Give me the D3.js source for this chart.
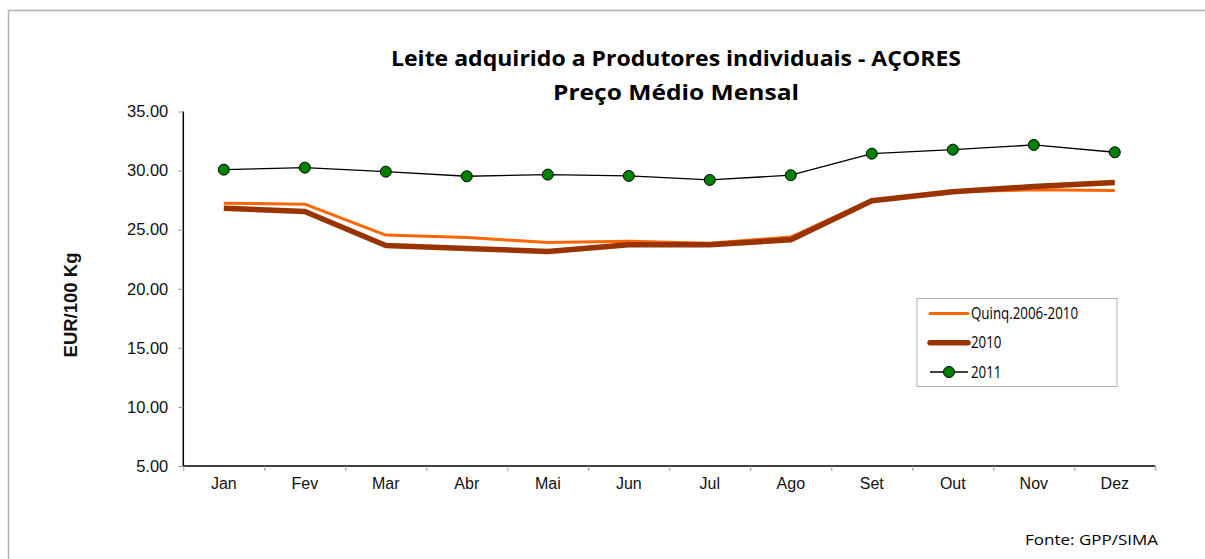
<!DOCTYPE html>
<html>
<head>
<meta charset="utf-8">
<script src="https://cdn.jsdelivr.net/npm/d3@7"></script>
<style>
  body { margin: 0; background: #fff; overflow: hidden; }
  svg { display: block; }
</style>
</head>
<body>
<div id="chart"></div>
<script>
const width = 1205
const height = 559

const months = ["Jan", "Fev", "Mar", "Abr", "Mai", "Jun", "Jul", "Ago", "Set", "Out", "Nov", "Dez"]
const quinq = [27.24, 27.16, 24.54, 24.34, 23.91, 24.03, 23.86, 24.37, 27.52, 28.2, 28.37, 28.31]
const y2010 = [26.82, 26.53, 23.66, 23.41, 23.15, 23.72, 23.72, 24.14, 27.44, 28.2, 28.65, 28.99]
const y2011 = [30.08, 30.25, 29.91, 29.52, 29.66, 29.55, 29.21, 29.61, 31.43, 31.77, 32.17, 31.55]
const yTicks = [5, 10, 15, 20, 25, 30, 35]

const series = [
  {name: "Quinq.2006-2010", values: quinq, color: "#FF6600", width: 3, dots: false},
  {name: "2010", values: y2010, color: "#993300", width: 5.5, dots: false},
  {name: "2011", values: y2011, color: "#000", width: 1.3, dots: true}
]

const plot = {left: 183.3, right: 1155.3, top: 111.5, bottom: 466}
const humanist = "'Open Sans', sans-serif"

const svg = d3.select("#chart")
  .append("svg")
  .attr("width", width)
  .attr("height", height)

// outer frame (right and bottom run off the picture)
svg.append("path")
  .attr("d", "M8.5,559 V10.5 H1210")
  .attr("fill", "none")
  .attr("stroke", "#b0b0b0")
  .attr("stroke-width", 1.5)

const x = d3.scaleBand()
  .domain(months)
  .range([plot.left, plot.right])
  .padding(0)

const xTick = d3.scaleLinear()
  .domain([0, months.length])
  .range([plot.left, plot.right])

const y = d3.scaleLinear()
  .domain([5, 35])
  .range([plot.bottom, plot.top])

// y axis
const yAxis = svg.append("g")
  .attr("transform", `translate(${plot.left},0)`)
  .call(d3.axisLeft(y).tickValues(yTicks).tickFormat(d3.format(".2f")).tickSize(5).tickPadding(10))
yAxis.select(".domain").attr("stroke", "#000").attr("stroke-width", 1.5).attr("d", `M0,${plot.top}V${plot.bottom}`)
yAxis.selectAll(".tick line").attr("stroke", "#999")
yAxis.selectAll(".tick text")
  .attr("font-family", "'Liberation Sans', Arial, sans-serif")
  .attr("font-size", 16.5)
  .attr("fill", "#111")

// x axis: boundary ticks
const xAxisTicks = svg.append("g")
  .attr("transform", `translate(0,${plot.bottom})`)
  .call(d3.axisBottom(xTick).tickValues(d3.range(0, months.length + 1)).tickFormat("").tickSize(5))
xAxisTicks.select(".domain").attr("stroke", "#000").attr("stroke-width", 1.5).attr("d", `M${plot.left},0H${plot.right}`)
xAxisTicks.selectAll(".tick line").attr("stroke", "#999")

// x axis: month labels
const xAxis = svg.append("g")
  .attr("transform", `translate(0,${plot.bottom})`)
  .call(d3.axisBottom(x).tickSize(0).tickPadding(12))
xAxis.select(".domain").remove()
xAxis.selectAll(".tick text")
  .attr("font-family", "'Liberation Sans', Arial, sans-serif")
  .attr("font-size", 16)
  .attr("fill", "#111")

// y axis title
svg.append("text")
  .attr("transform", "translate(77,305) rotate(-90)")
  .attr("text-anchor", "middle")
  .attr("font-family", "'Liberation Sans', Arial, sans-serif")
  .attr("font-weight", "bold")
  .attr("font-size", 18.5)
  .attr("fill", "#111")
  .text("EUR/100 Kg")

// title
svg.append("text")
  .attr("x", 676)
  .attr("y", 66)
  .attr("text-anchor", "middle")
  .attr("font-family", humanist)
  .attr("font-weight", "bold")
  .attr("font-size", 22)
  .attr("textLength", 570)
  .attr("lengthAdjust", "spacingAndGlyphs")
  .attr("fill", "#000")
  .text("Leite adquirido a Produtores individuais - AÇORES")

svg.append("text")
  .attr("x", 676)
  .attr("y", 100)
  .attr("text-anchor", "middle")
  .attr("font-family", humanist)
  .attr("font-weight", "bold")
  .attr("font-size", 22)
  .attr("textLength", 246)
  .attr("lengthAdjust", "spacingAndGlyphs")
  .attr("fill", "#000")
  .text("Preço Médio Mensal")

// lines
const line = d3.line()
  .x((d, i) => x(months[i]) + x.bandwidth() / 2)
  .y(d => y(d))

svg.append("g")
  .selectAll("path")
  .data(series)
  .join("path")
  .attr("d", d => line(d.values))
  .attr("fill", "none")
  .attr("stroke", d => d.color)
  .attr("stroke-width", d => d.width)
  .attr("stroke-linejoin", "round")

svg.append("g")
  .selectAll("circle")
  .data(y2011)
  .join("circle")
  .attr("cx", (d, i) => x(months[i]) + x.bandwidth() / 2)
  .attr("cy", d => y(d))
  .attr("r", 5.5)
  .attr("fill", "#008000")
  .attr("stroke", "#000")
  .attr("stroke-width", 1)

// legend
const legend = svg.append("g")
legend.append("rect")
  .attr("x", 917)
  .attr("y", 298.5)
  .attr("width", 200)
  .attr("height", 88)
  .attr("fill", "#fff")
  .attr("stroke", "#b0b0b0")
  .attr("stroke-width", 1)

const rowY = d3.scalePoint()
  .domain(series.map(d => d.name))
  .range([313.5, 372])

const item = legend.selectAll(".item")
  .data(series)
  .join("g")
  .attr("class", "item")
  .attr("transform", d => `translate(0,${rowY(d.name)})`)

item.append("line")
  .attr("x1", 930)
  .attr("x2", 968)
  .attr("stroke", d => d.color)
  .attr("stroke-width", d => d.width)
  .attr("stroke-linecap", d => d.dots ? "butt" : "round")

item.filter(d => d.dots)
  .append("circle")
  .attr("cx", 949)
  .attr("r", 5.5)
  .attr("fill", "#008000")
  .attr("stroke", "#000")

item.append("text")
  .attr("x", 971)
  .attr("dy", "0.36em")
  .attr("font-family", humanist)
  .attr("font-size", 15.5)
  .attr("fill", "#000")
  .text(d => d.name)
  .each(function() {
    // Calibri runs narrower than Open Sans
    const w = this.getComputedTextLength()
    d3.select(this).attr("textLength", w * 0.86).attr("lengthAdjust", "spacingAndGlyphs")
  })

// source note
svg.append("text")
  .attr("x", 1025)
  .attr("y", 545)
  .attr("font-family", humanist)
  .attr("font-size", 15)
  .attr("textLength", 133)
  .attr("lengthAdjust", "spacingAndGlyphs")
  .attr("fill", "#000")
  .text("Fonte: GPP/SIMA")
</script>
</body>
</html>
